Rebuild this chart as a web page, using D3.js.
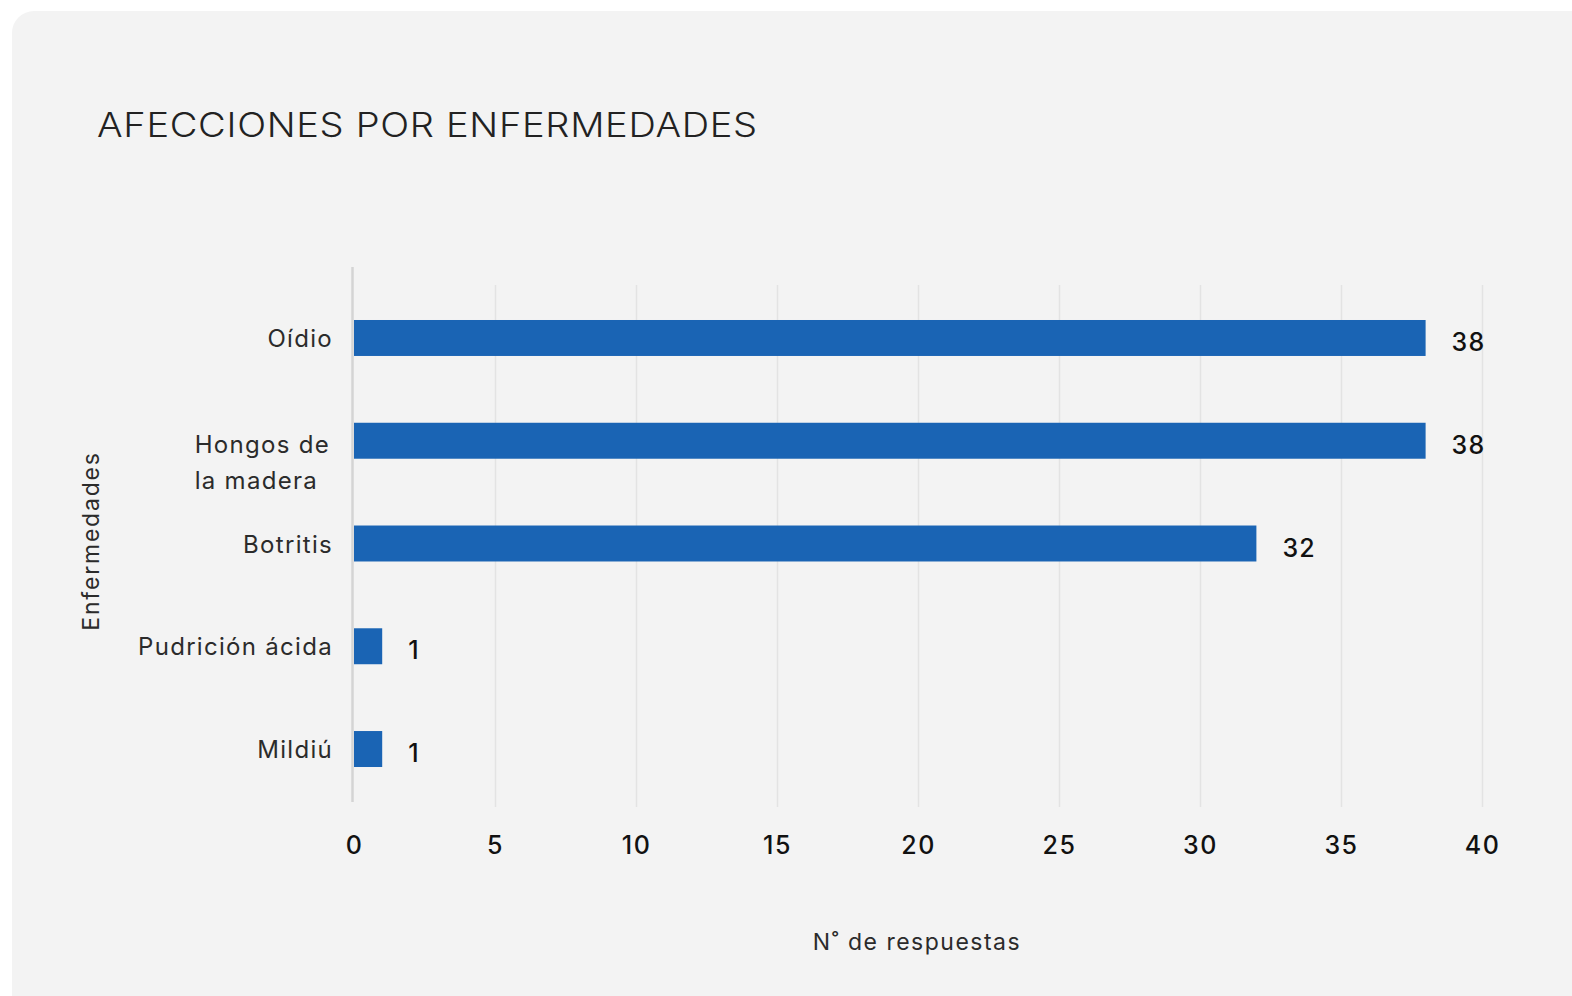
<!DOCTYPE html>
<html><head><meta charset="utf-8">
<script src="https://cdn.jsdelivr.net/npm/d3@7"></script>
<style>html,body{margin:0;padding:0;background:#fff;}svg{display:block;}</style>
</head><body>
<svg id="c" width="1572" height="996"></svg>
<script>
const categories = ["Oídio", "Hongos de la madera", "Botritis", "Pudrición ácida", "Mildiú"];
const categoryLines = [["Oídio"], ["Hongos de", "la madera"], ["Botritis"], ["Pudrición ácida"], ["Mildiú"]];
const values = [38, 38, 32, 1, 1];
const xTicks = [0, 5, 10, 15, 20, 25, 30, 35, 40];
const title = "AFECCIONES POR ENFERMEDADES";
const xTitle = "N˚ de respuestas";
const yTitle = "Enfermedades";

const FONT = "Inter, 'Noto Sans', sans-serif";
const svg = d3.select("#c");
svg.append("rect").attr("x", 12).attr("y", 11).attr("width", 1600).attr("height", 1040)
  .attr("rx", 22).attr("fill", "#f3f3f3");

const x = d3.scaleLinear().domain([0, 40]).range([354, 1482]);
const y = d3.scaleBand().domain(categories).range([286.6, 800.4]).paddingInner(0.65).paddingOuter(0.325);

// title: widen glyphs horizontally to fit the reference width
const tt = svg.append("text").attr("x", 0).attr("y", 0).text(title)
  .attr("font-family", FONT).attr("font-weight", 300).attr("font-size", 33.5)
  .attr("letter-spacing", 0.6).attr("fill", "#222");
const tw = tt.node().getComputedTextLength();
tt.attr("transform", `translate(97,137) scale(${661 / tw},1)`);

// grid
const gx = d3.axisBottom(x).tickValues(xTicks).tickSize(-(807 - 285)).tickFormat("");
svg.append("g").attr("transform", "translate(0,807)").call(gx)
  .call(g => g.select(".domain").remove())
  .call(g => g.selectAll(".tick line").attr("stroke", "#e3e3e3").attr("stroke-width", 1.5))
  .call(g => g.selectAll(".tick").filter(d => d === 0).remove());

// tick labels
const ax = d3.axisBottom(x).tickValues(xTicks).tickSize(0).tickPadding(0);
svg.append("g").attr("transform", "translate(0,854)").call(ax)
  .call(g => g.select(".domain").remove())
  .call(g => g.selectAll("text").attr("dy", 0).attr("font-family", FONT).attr("font-weight", 500)
    .attr("font-size", 25).attr("letter-spacing", 1.5).attr("fill", "#111"));

// y axis line
svg.append("line").attr("x1", 352.5).attr("x2", 352.5).attr("y1", 267).attr("y2", 802)
  .attr("stroke", "#d4d4d4").attr("stroke-width", 2.5);

// bars
svg.append("g").selectAll("rect").data(values).join("rect")
  .attr("x", x(0)).attr("y", (d, i) => y(categories[i]))
  .attr("width", d => x(d) - x(0)).attr("height", y.bandwidth())
  .attr("fill", "#1a64b4");

// value labels
svg.append("g").selectAll("text").data(values).join("text")
  .attr("x", d => x(d) + 26).attr("y", (d, i) => y(categories[i]) + y.bandwidth() / 2 + 13)
  .text(d => d).attr("font-family", FONT).attr("font-weight", 500).attr("font-size", 25)
  .attr("letter-spacing", 1.2).attr("fill", "#111");

// category labels
categoryLines.forEach((lines, i) => {
  const cy = y(categories[i]) + y.bandwidth() / 2;
  const t = svg.append("text").attr("font-family", FONT).attr("font-size", 24)
    .attr("letter-spacing", 1.3).attr("fill", "#2b2b2b");
  if (lines.length === 1) {
    t.attr("x", 333).attr("y", cy + 9).attr("text-anchor", "end").text(lines[0]);
  } else {
    const probe = t.append("tspan").text(lines[0]);
    const w = probe.node().getComputedTextLength();
    probe.remove();
    lines.forEach((l, k) => {
      t.append("tspan").attr("x", 330 - w).attr("y", cy + 12 + k * 36).text(l);
    });
  }
});

// axis titles
svg.append("text").attr("transform", "translate(99,541) rotate(-90)").attr("text-anchor", "middle")
  .text(yTitle).attr("font-family", FONT).attr("font-size", 23).attr("letter-spacing", 1.8).attr("fill", "#2b2b2b");
svg.append("text").attr("x", 917).attr("y", 950).attr("text-anchor", "middle")
  .text(xTitle).attr("font-family", FONT).attr("font-size", 23).attr("letter-spacing", 1.5).attr("fill", "#2b2b2b");
</script>
</body></html>
